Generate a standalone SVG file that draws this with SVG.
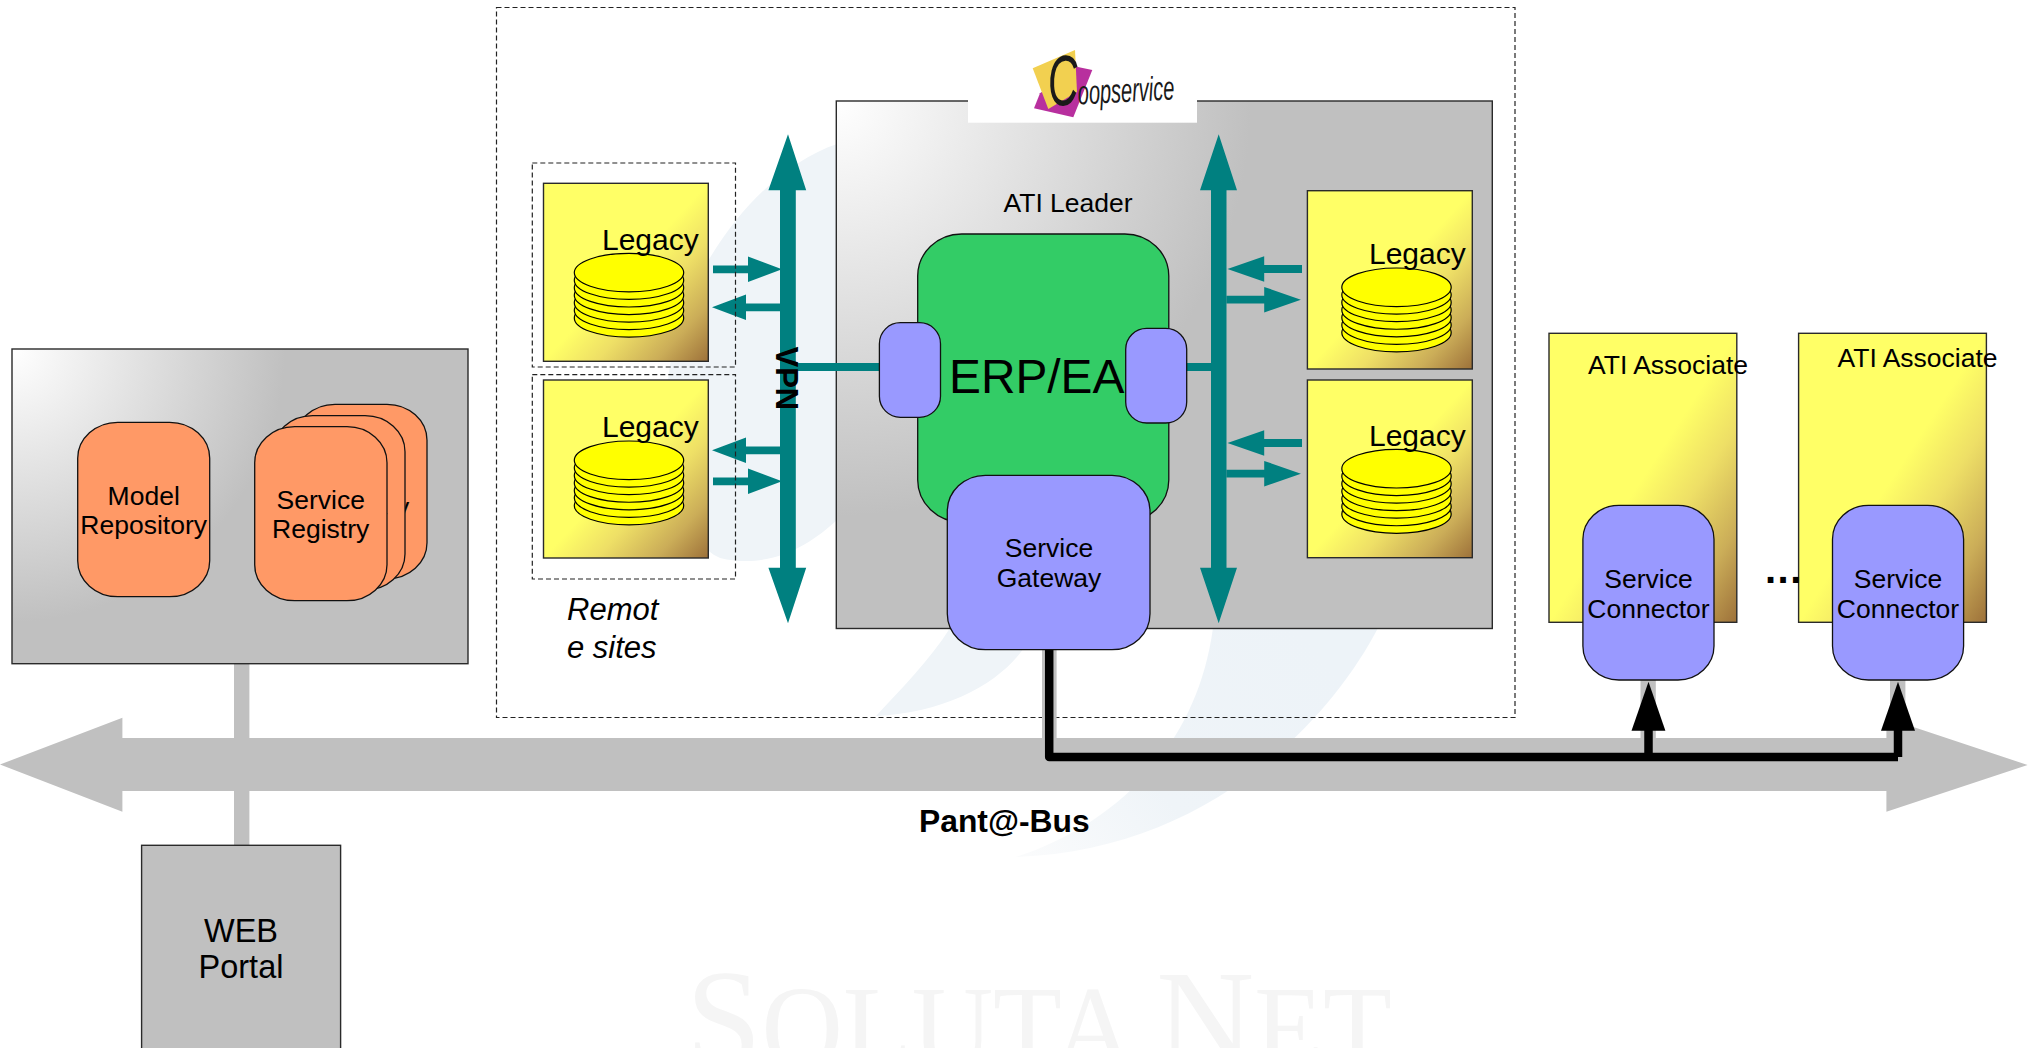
<svg xmlns="http://www.w3.org/2000/svg" xmlns:xlink="http://www.w3.org/1999/xlink" width="2029" height="1048" viewBox="0 0 2029 1048">
<style>
text{font-family:"Liberation Sans",Arial,sans-serif;fill:#000}
.c{text-anchor:middle}
.s26{font-size:26.5px}
.box{stroke:#2a2a2a;stroke-width:1.4}
.r{stroke:#111;stroke-width:1.3}
.blue{fill:#9999ff}
.or{fill:#ff9966}
.y{fill:url(#yg)}
.dash{fill:none;stroke:#222;stroke-width:1.2;stroke-dasharray:5 3}
.teal{fill:#008080}
.gray{fill:#c0c0c0}
.blk{fill:#000}
.cy{fill:#ffff00;stroke:#000;stroke-width:1.2}
.sw{fill:#eff4f8}
</style>
<defs>
<linearGradient id="yg" x1="0" y1="0" x2="1" y2="1">
<stop offset="0" stop-color="#ffff66"/><stop offset="0.5" stop-color="#ffff66"/><stop offset="0.66" stop-color="#eedf66"/><stop offset="0.84" stop-color="#cbad58"/><stop offset="1" stop-color="#9d713a"/>
</linearGradient>
<linearGradient id="fade" gradientUnits="userSpaceOnUse" x1="1300" y1="628" x2="1030" y2="857">
<stop offset="0" stop-color="#edf3f8"/><stop offset="0.6" stop-color="#eff4f8"/><stop offset="1" stop-color="#fafbfc"/>
</linearGradient>
<radialGradient id="g1" gradientUnits="userSpaceOnUse" cx="12" cy="349" r="273"><stop offset="0" stop-color="#fff"/><stop offset="1" stop-color="#c0c0c0"/></radialGradient>
<radialGradient id="g2" gradientUnits="userSpaceOnUse" cx="836" cy="101" r="415"><stop offset="0" stop-color="#fff"/><stop offset="1" stop-color="#c0c0c0"/></radialGradient>
<g id="cyl">
<ellipse class="cy" cx="0" cy="45.3" rx="54.7" ry="19.3"/>
<ellipse class="cy" cx="0" cy="37.75" rx="54.7" ry="19.3"/>
<ellipse class="cy" cx="0" cy="30.2" rx="54.7" ry="19.3"/>
<ellipse class="cy" cx="0" cy="22.65" rx="54.7" ry="19.3"/>
<ellipse class="cy" cx="0" cy="15.1" rx="54.7" ry="19.3"/>
<ellipse class="cy" cx="0" cy="7.55" rx="54.7" ry="19.3"/>
<ellipse class="cy" cx="0" cy="0" rx="54.7" ry="19.3"/>
</g>
<polygon id="ar" class="teal" points="0,-3.9 35,-3.9 35,-12.8 69,0 35,12.8 35,3.9 0,3.9"/>
</defs>
<rect width="2029" height="1048" fill="#fff"/>

<g id="watermark">
<path class="sw" d="M837,144 C760,170 680,270 668,380 C662,470 680,540 720,558 C770,570 810,545 837,520 Z"/>
<path class="sw" d="M950,628 L1034,628 C1020,670 960,712 876,716 C900,690 930,660 950,628 Z"/>
<path d="M1213,628 L1378,628 C1330,720 1210,850 1016,857 C1100,830 1195,760 1213,628 Z" fill="url(#fade)"/>
<text x="686" y="1068" textLength="706" lengthAdjust="spacingAndGlyphs" style="font-family:'Liberation Serif',serif;fill:#f5f5f5;font-size:118px"><tspan font-size="142">S</tspan>OLUTA <tspan font-size="142">N</tspan>ET</text>
</g>

<g id="coopservice-domain">
<rect class="dash" x="496.5" y="7.5" width="1018.5" height="710"/>
</g>

<g id="ati-leader">
<rect class="box" x="836.3" y="101" width="656" height="527.5" fill="url(#g2)"/>
<rect x="968" y="60" width="229" height="62.7" fill="#fff"/>
<text class="s26" x="1003.5" y="211.7">ATI Leader</text>
</g>

<g id="coopservice-logo">
<polygon points="1076.7,66.7 1092.3,70 1073.3,117.3 1034,108.3 1040,93.3" fill="#b82f9e"/>
<polygon points="1032.7,68.3 1075,50 1077,92 1048.3,109" fill="#f2d050"/>
<text transform="translate(1049,106) rotate(-3) scale(1,1.7)" style="font-size:20px;font-style:italic;fill:#1a1a1a"><tspan font-size="42">C</tspan><tspan dx="-1">oopservice</tspan></text>
</g>

<g id="connectors">
<rect class="gray" x="234" y="664" width="15.4" height="181"/>
<polygon class="gray" points="0,764.5 122.4,717.7 122.4,738 1886.4,738 1886.4,718 2027.6,765 1886.4,811.7 1886.4,791 122.4,791 122.4,811.7"/>
<rect class="gray" x="1042" y="650" width="14.6" height="90"/>
<rect class="gray" x="1640.5" y="680" width="15.3" height="60"/>
<rect class="gray" x="1890" y="680" width="15.4" height="60"/>
<path d="M1049.2,650 V757 H1898 M1648.5,725 V757 M1898,725 V757" fill="none" stroke="#000" stroke-width="8.5" stroke-linejoin="round"/>
<polygon class="blk" points="1648.5,681.7 1665.4,730.7 1631.5,730.7"/>
<polygon class="blk" points="1898,681.7 1915,730.7 1881,730.7"/>
<rect class="teal" x="795" y="363" width="90" height="8"/>
<rect class="teal" x="1180" y="363" width="35" height="8"/>
<polygon class="teal" points="788,134.3 806.2,190.3 795.8,190.3 795.8,567.7 806.2,567.7 788,623.3 768.4,567.7 780,567.7 780,190.3 768.4,190.3"/>
<polygon class="teal" points="1218.7,134.3 1237,190.3 1226.5,190.3 1226.5,567.7 1237,567.7 1218.7,623.3 1200,567.7 1211,567.7 1211,190.3 1200,190.3"/>
<use xlink:href="#ar" href="#ar" transform="translate(713,269.3)"/>
<use xlink:href="#ar" href="#ar" transform="translate(781,307.3) scale(-1,1)"/>
<use xlink:href="#ar" href="#ar" transform="translate(781,450.3) scale(-1,1)"/>
<use xlink:href="#ar" href="#ar" transform="translate(713,481.3)"/>
<use xlink:href="#ar" href="#ar" transform="translate(1302,269) scale(-1.08,1)"/>
<use xlink:href="#ar" href="#ar" transform="translate(1226.4,299.7) scale(1.08,1)"/>
<use xlink:href="#ar" href="#ar" transform="translate(1302,443) scale(-1.08,1)"/>
<use xlink:href="#ar" href="#ar" transform="translate(1226.4,473.7) scale(1.08,1)"/>
</g>

<g id="vpn-label"><text transform="translate(775.5,346.5) rotate(90)" style="font-size:31px;font-weight:bold">VPN</text></g>

<g id="remote-sites">
<rect class="dash" x="532.3" y="163" width="203.2" height="204"/>
<rect class="dash" x="532.3" y="374.7" width="203.2" height="204.3"/>
<text x="567" y="620" style="font-size:31px;font-style:italic">Remot</text>
<text x="567" y="658.3" style="font-size:31px;font-style:italic">e sites</text>
</g>
<g id="legacy-1">
<rect class="y box" x="543.5" y="183.3" width="164.8" height="178"/>
<use xlink:href="#cyl" href="#cyl" x="629" y="272.6"/>
<text x="602" y="250" style="font-size:30px">Legacy</text>
</g>
<g id="legacy-2">
<rect class="y box" x="543.5" y="380" width="164.8" height="178"/>
<use xlink:href="#cyl" href="#cyl" x="629" y="460.3"/>
<text x="602" y="437" style="font-size:30px">Legacy</text>
</g>
<g id="legacy-3">
<rect class="y box" x="1307.4" y="190.7" width="164.9" height="178.3"/>
<use xlink:href="#cyl" href="#cyl" x="1396.5" y="287.3"/>
<text x="1369" y="264" style="font-size:30px">Legacy</text>
</g>
<g id="legacy-4">
<rect class="y box" x="1307.4" y="380" width="164.9" height="177.7"/>
<use xlink:href="#cyl" href="#cyl" x="1396.5" y="468.7"/>
<text x="1369" y="446" style="font-size:30px">Legacy</text>
</g>

<g id="erp">
<rect class="r" x="917.7" y="234" width="251.1" height="288" rx="44" ry="42" fill="#33cc66"/>
<text x="949" y="392.5" style="font-size:47.8px">ERP/EA</text>
</g>
<g id="erp-port-left"><rect class="blue r" x="879.4" y="322.7" width="61.1" height="94.6" rx="21" ry="21"/></g>
<g id="erp-port-right"><rect class="blue r" x="1125.7" y="328.3" width="61" height="94.7" rx="21" ry="21"/></g>
<g id="service-gateway">
<rect class="blue r" x="947.3" y="475.3" width="202.7" height="174.4" rx="38" ry="36"/>
<text class="c s26" x="1049" y="557.2">Service</text>
<text class="c s26" x="1049" y="587">Gateway</text>
</g>

<g id="registry-area">
<rect class="box" x="12" y="349" width="456" height="314.7" fill="url(#g1)"/>
</g>
<g id="model-repository">
<rect class="or r" x="77.7" y="422.3" width="132" height="174.4" rx="40" ry="36"/>
<text class="c s26" x="143.7" y="504.5">Model</text>
<text class="c s26" x="143.7" y="534">Repository</text>
</g>
<g id="service-registry-3">
<rect class="or r" x="295" y="404.3" width="132" height="174.4" rx="40" ry="36"/>
<text class="c s26" x="360.7" y="486">Service</text>
<text class="c s26" x="360.7" y="515.5">Registry</text>
</g>
<g id="service-registry-2">
<rect class="or r" x="272.7" y="415.7" width="132.3" height="174.4" rx="40" ry="36"/>
<text class="c s26" x="338.7" y="497.5">Service</text>
<text class="c s26" x="338.7" y="527">Registry</text>
</g>
<g id="service-registry-1">
<rect class="or r" x="254.7" y="426.7" width="132.3" height="174" rx="40" ry="36"/>
<text class="c s26" x="320.7" y="508.5">Service</text>
<text class="c s26" x="320.7" y="538">Registry</text>
</g>

<g id="web-portal">
<rect class="gray box" x="141.6" y="845.3" width="199" height="220"/>
<text class="c" x="241" y="942" style="font-size:32.5px">WEB</text>
<text class="c" x="241" y="977.5" style="font-size:32.5px">Portal</text>
</g>

<g id="ati-associate-1">
<rect class="y box" x="1549" y="333.3" width="187.8" height="289"/>
<text class="s26" x="1588" y="374">ATI Associate</text>
</g>
<g id="service-connector-1">
<rect class="blue r" x="1582.9" y="505.3" width="131.1" height="174.7" rx="36" ry="34"/>
<text class="c s26" x="1648.5" y="587.7">Service</text>
<text class="c s26" x="1648.5" y="617.7">Connector</text>
</g>
<g id="ati-associate-2">
<rect class="y box" x="1798.6" y="333.3" width="187.8" height="289"/>
<text class="s26" x="1837.5" y="366.7">ATI Associate</text>
</g>
<g id="service-connector-2">
<rect class="blue r" x="1832.5" y="505.3" width="131.1" height="174.7" rx="36" ry="34"/>
<text class="c s26" x="1898" y="587.7">Service</text>
<text class="c s26" x="1898" y="617.7">Connector</text>
</g>
<g id="ellipsis"><text x="1765" y="583" style="font-size:40px;font-weight:bold;letter-spacing:1.5px">...</text></g>

<g id="pantabus-label"><text x="919" y="831.5" style="font-size:31.8px;font-weight:bold">Pant@-Bus</text></g>
</svg>
